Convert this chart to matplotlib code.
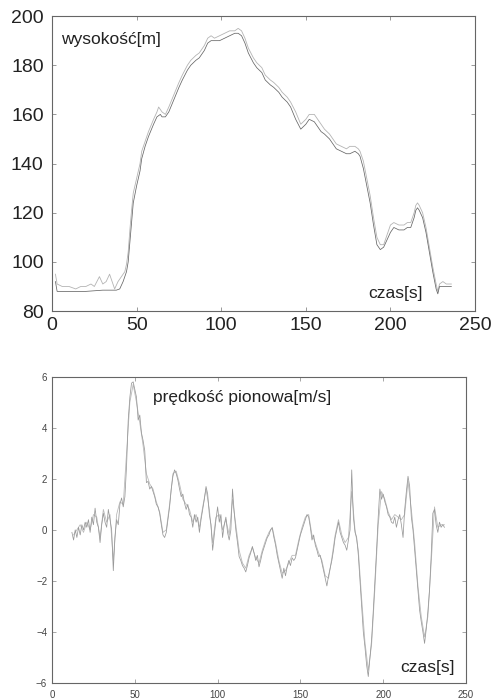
import numpy as np
import matplotlib.pyplot as plt

plt.rcParams['font.family'] = ['Liberation Sans', 'DejaVu Sans']

# wysokość - pomiar 1
t_h1 = [2, 3, 5, 10, 20, 30, 38, 40, 42, 44, 45, 46, 47, 48, 50, 52, 53, 55, 57, 60,
        62, 64, 65, 67, 69, 72, 75, 77, 80, 82, 85, 87, 90, 92, 94, 96, 99, 102, 105, 108,
        110, 112, 114, 116, 119, 121, 124, 126, 129, 131, 134, 136, 139, 141, 144, 147, 150, 152, 155, 157,
        159, 161, 164, 166, 168, 171, 174, 176, 179, 181, 182, 184, 186, 188, 190, 192, 194, 196, 198, 200,
        202, 205, 208, 210, 212, 214, 215, 216, 217, 219, 221, 223, 225, 227, 228, 229, 231, 233, 236]
h1 = [92, 88, 88, 88, 88, 88.5, 88.5, 89, 92, 96, 100, 108, 116, 124, 131, 137, 142, 147, 151, 156,
      159, 160, 159, 159, 161, 166, 171, 174, 178, 180, 182, 183, 186, 189, 190, 190, 190, 191, 192, 193,
      193, 192, 189, 185, 181, 179, 177, 174, 172, 171, 169, 167, 165, 163, 158, 154, 156, 158, 157, 155,
      153, 152, 150, 148, 146, 145, 144, 144, 145, 144, 143, 138, 131, 124, 115, 107, 105, 106, 109, 112,
      114, 113, 113, 114, 114, 118, 121, 122, 121, 118, 112, 104, 96, 89, 87, 90, 90, 90, 90]

# wysokość - pomiar 2
t_h2 = [2, 3, 6, 10, 14, 17, 20, 23, 25, 28, 30, 32, 34, 36, 37, 39, 41, 43, 44, 45,
        46, 47, 48, 50, 52, 53, 55, 57, 60, 62, 63, 65, 67, 69, 72, 75, 77, 80, 82, 85,
        87, 90, 92, 94, 96, 99, 102, 105, 108, 110, 112, 114, 116, 119, 121, 124, 126, 129, 131, 134,
        136, 139, 141, 144, 147, 150, 152, 155, 157, 159, 161, 164, 166, 168, 171, 174, 176, 179, 181, 182,
        184, 186, 188, 190, 192, 194, 196, 198, 200, 202, 205, 208, 210, 212, 214, 215, 216, 217, 219, 221,
        223, 225, 227, 228, 229, 231, 233, 236]
h2 = [95, 91, 90, 90, 89, 90, 90, 91, 90, 94, 91, 92, 95, 91, 89, 92, 94, 96, 99, 104,
      113, 121, 128, 134, 140, 145, 149, 153, 158, 161, 163, 161, 160, 163, 168, 173, 176, 180, 182, 184,
      185, 188, 191, 192, 191, 192, 193, 194, 194, 195, 194, 191, 187, 183, 181, 179, 176, 174, 173, 171,
      169, 167, 165, 161, 156, 158, 160, 160, 158, 156, 154, 152, 150, 148, 147, 146, 147, 147, 146, 145,
      141, 134, 127, 118, 110, 107, 107, 111, 115, 116, 115, 115, 116, 116, 120, 123, 124, 123, 120, 114,
      106, 98, 91, 88, 91, 92, 91, 91]

# prędkość pionowa - pomiar 1
t_v1 = list(range(12, 238))
v1 = [-0.1, -0.4, 0.0, -0.3, 0.1, -0.2, 0.2, 0.0, 0.3, 0.1, 0.4, -0.1, 0.5, 0.2, 0.85, 0.3, 0.1, -0.5, 0.2, 0.65,
      0.3, 0.1, 0.8, 0.4, 0.0, -1.6, -0.3, 0.4, 0.2, 1.0, 1.25, 0.9, 1.3, 2.5, 4.3, 5.2, 5.75, 5.8, 5.5, 5.2,
      4.3, 4.5, 3.8, 3.5, 3.1, 1.85, 1.9, 1.6, 1.7, 1.5, 1.3, 1.0, 0.9, 0.65, 0.2, -0.2, -0.3, -0.1, 0.4, 0.9,
      1.6, 2.1, 2.35, 2.2, 1.95, 1.6, 1.3, 1.4, 1.05, 0.8, 1.0, 0.6, 0.5, 0.1, 0.6, 0.3, 0.5, -0.1, 0.4, 0.8,
      1.2, 1.7, 1.4, 0.6, 0.2, -0.8, -0.2, 0.4, 0.9, 0.3, 0.6, -0.3, 0.2, 0.5, -0.1, -0.4, 0.0, 1.6, 0.7, 0.0,
      -0.5, -1.05, -1.2, -1.4, -1.5, -1.65, -1.4, -1.1, -0.9, -0.65, -0.9, -1.2, -1.0, -1.45, -1.2, -0.9, -0.7, -0.5, -0.3, -0.2,
      0.0, 0.07, -0.3, -0.6, -1.0, -1.3, -1.6, -1.9, -1.5, -1.8, -1.45, -1.2, -1.4, -1.1, -1.2, -1.1, -0.8, -0.5, -0.2, 0.0,
      0.2, 0.4, 0.6, 0.5, 0.1, -0.4, -0.2, -0.6, -0.8, -1.05, -1.0, -1.3, -1.6, -1.9, -2.2, -1.8, -1.5, -1.2, -0.8, -0.3,
      0.0, 0.3, -0.1, -0.3, -0.5, -0.6, -0.8, -0.4, 0.0, 2.35, 0.5, -0.1, -0.3, -1.0, -2.0, -3.0, -4.0, -4.6, -5.3, -5.75,
      -5.0, -4.3, -3.2, -2.0, -0.8, 0.5, 1.6, 1.2, 1.4, 1.1, 0.9, 0.6, 0.5, 0.3, 0.25, 0.5, 0.1, 0.4, 0.6, 0.2,
      -0.3, 0.8, 1.5, 2.1, 1.7, 0.5, 0.0, -0.8, -1.6, -2.4, -3.15, -3.6, -4.0, -4.45, -3.9, -3.2, -2.35, -1.0, 0.65, 0.8,
      0.2, -0.1, 0.3, 0.1, 0.2, 0.1]

# prędkość pionowa - pomiar 2
t_v2 = list(range(13, 238, 2))
v2 = [-0.2, 0.0, 0.2, -0.1, 0.3, 0.0, 0.6, 0.5, -0.3, 0.8, 0.3, 0.6, -1.2, 0.6, 1.1, 1.0, 3.0, 5.0, 5.7, 5.0,
      4.2, 3.3, 2.2, 1.8, 1.6, 1.1, 0.7, -0.1, 0.0, 1.0, 2.2, 2.3, 1.8, 1.2, 1.0, 0.8, 0.3, 0.6, 0.1, 0.9,
      1.6, 0.8, -0.5, 0.5, 0.6, 0.0, 0.4, -0.2, 1.2, 0.2, -0.8, -1.3, -1.5, -1.0, -0.7, -1.1, -1.3, -0.8, -0.4, -0.1,
      0.1, -0.5, -1.2, -1.7, -1.6, -1.3, -1.0, -1.0, -0.4, 0.1, 0.5, 0.6, -0.2, -0.5, -0.9, -1.2, -1.8, -1.9, -1.1, -0.2,
      0.4, -0.2, -0.5, -0.3, 1.5, 0.0, -0.8, -2.7, -4.4, -5.5, -4.5, -2.3, 0.2, 1.5, 1.2, 0.7, 0.4, 0.6, 0.5, 0.4,
      0.6, 1.9, 0.8, -0.5, -2.2, -3.4, -4.2, -3.4, -1.3, 0.9, 0.1, 0.2, 0.2]

x_ticks = [0, 50, 100, 150, 200, 250]
h_ticks = [80, 100, 120, 140, 160, 180, 200]
v_ticks = [-6, -4, -2, 0, 2, 4, 6]

fig = plt.figure(figsize=(4.91, 6.99), dpi=100)
ax1 = fig.add_axes([0.106, 0.555, 0.8615, 0.422])
ax2 = fig.add_axes([0.106, 0.023, 0.843, 0.438])

# górny wykres - wysokość
ax1.plot(t_h2, h2, color='#b4b4b4', lw=0.6)
ax1.plot(t_h1, h1, color='#666666', lw=0.55)
ax1.set_xlim(0, 250)
ax1.set_ylim(80, 200)
ax1.set_xticks(x_ticks)
ax1.set_yticks(h_ticks)
ax1.tick_params(direction='in', top=True, right=True, length=3, width=0.6,
                color='#888888', labelsize=14, labelcolor='#222222', pad=6)
ax1.tick_params(axis='x', pad=4)
ax1.text(0.021, 0.919, 'wysokość[m]', transform=ax1.transAxes,
         fontsize=12.5, color='#222222', va='center', ha='left')
ax1.text(0.747, 0.058, 'czas[s]', transform=ax1.transAxes,
         fontsize=12.5, color='#222222', va='center', ha='left')

# dolny wykres - prędkość pionowa
ax2.plot(t_v2, v2, color='#bbbbbb', lw=0.6)
ax2.plot(t_v1, v1, color='#999999', lw=0.55)
ax2.set_xlim(0, 250)
ax2.set_ylim(-6, 6)
ax2.set_xticks(x_ticks)
ax2.set_yticks(v_ticks)
ax2.tick_params(direction='in', top=True, right=True, length=3, width=0.6,
                color='#999999', labelsize=7, labelcolor='#444444', pad=3.5)
ax2.tick_params(axis='x', pad=5)
ax2.text(0.244, 0.931, 'prędkość pionowa[m/s]', transform=ax2.transAxes,
         fontsize=12.5, color='#222222', va='center', ha='left')
ax2.text(0.841, 0.052, 'czas[s]', transform=ax2.transAxes,
         fontsize=12.5, color='#222222', va='center', ha='left')

for ax in (ax1, ax2):
    for s in ax.spines.values():
        s.set_color('#666666')
        s.set_linewidth(0.8)

fig.savefig('out.png', dpi=100)
